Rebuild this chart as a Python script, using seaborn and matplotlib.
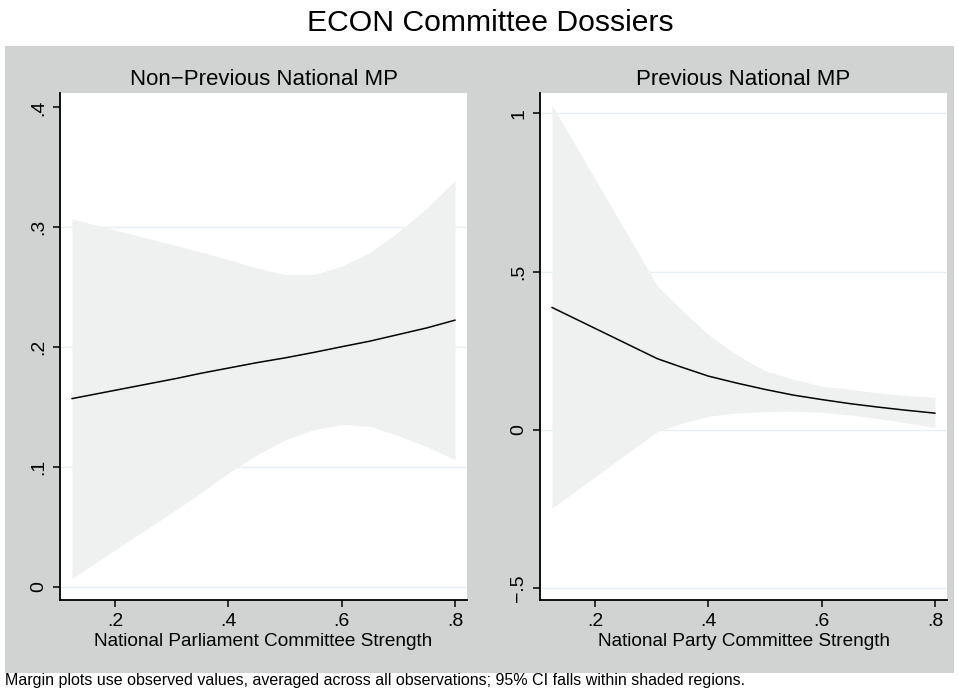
import matplotlib
matplotlib.use("Agg")
import numpy as np
import pandas as pd
import matplotlib.pyplot as plt
from matplotlib.patches import Rectangle
from matplotlib.ticker import FixedLocator, FuncFormatter
import seaborn as sns

# Committee strength values at which the margins are evaluated
strength = [0.124, 0.31, 0.35, 0.40, 0.45, 0.50, 0.55, 0.60, 0.65, 0.70, 0.75, 0.80]

# Non-previous national MPs: predicted margin and 95% CI
nonprev_margin = [0.157, 0.174, 0.178, 0.1825, 0.187, 0.191, 0.1955, 0.2003, 0.205, 0.2105, 0.216, 0.2225]
nonprev_upper = [0.307, 0.2845, 0.2795, 0.273, 0.266, 0.2605, 0.2605, 0.2675, 0.279, 0.296, 0.316, 0.339]
nonprev_lower = [0.007, 0.065, 0.078, 0.095, 0.110, 0.1225, 0.131, 0.1355, 0.134, 0.126, 0.117, 0.106]

# Previous national MPs: predicted margin and 95% CI
prev_margin = [0.387, 0.225, 0.200, 0.170, 0.148, 0.128, 0.110, 0.096, 0.083, 0.072, 0.062, 0.053]
prev_upper = [1.026, 0.455, 0.384, 0.301, 0.237, 0.187, 0.160, 0.138, 0.128, 0.117, 0.109, 0.103]
prev_lower = [-0.247, -0.005, 0.019, 0.043, 0.054, 0.058, 0.059, 0.056, 0.047, 0.036, 0.022, 0.008]

main_title = "ECON Committee Dossiers"
panel_titles = ["Non\u2212Previous National MP", "Previous National MP"]
x_titles = ["National Parliament Committee Strength", "National Party Committee Strength"]
note = ("Margin plots use observed values, averaged across all observations; "
        "95% CI falls within shaded regions.")

x_ticks = [0.2, 0.4, 0.6, 0.8]
y_ticks = [[0, 0.1, 0.2, 0.3, 0.4], [-0.5, 0, 0.5, 1]]
y_grid = [[0, 0.1, 0.2, 0.3], [-0.5, 0, 0.5, 1]]
x_range = (0.103, 0.821)
y_ranges = [(-0.011, 0.412), (-0.537, 1.064)]

df = pd.concat([
    pd.DataFrame({"panel": 0, "x": strength, "margin": nonprev_margin,
                  "lo": nonprev_lower, "hi": nonprev_upper}),
    pd.DataFrame({"panel": 1, "x": strength, "margin": prev_margin,
                  "lo": prev_lower, "hi": prev_upper}),
])

sns.set_style("white")
plt.rcParams["font.family"] = ["Liberation Sans", "DejaVu Sans"]
plt.rcParams["text.color"] = "black"
plt.rcParams["xtick.color"] = "black"
plt.rcParams["ytick.color"] = "black"

BG = "#d1d3d2"
CI = "#eff1f0"
GRID = "#e6eff1"


def stata_fmt(v, _pos=None):
    s = f"{v:g}"
    if s.startswith("0."):
        s = s[1:]
    elif s.startswith("-0."):
        s = "\u2212" + s[2:]
    elif s.startswith("-"):
        s = "\u2212" + s[1:]
    return s


W, H = 959, 689
fig = plt.figure(figsize=(W / 100, H / 100), dpi=100)
fig.patch.set_facecolor("white")
fig.patches.append(Rectangle((5 / W, 1 - 673 / H), 949 / W, 627 / H,
                             transform=fig.transFigure, facecolor=BG,
                             edgecolor="none", zorder=-5))

fig.text(490 / W, 1 - 31 / H, main_title, ha="center", va="baseline",
         fontsize=21.7)

lefts = [60, 540]
for i, left in enumerate(lefts):
    ax = fig.add_axes([left / W, 1 - 600 / H, 407 / W, 507 / H])
    ax.set_zorder(1)
    ax.set_facecolor("white")
    sub = df[df["panel"] == i]
    ax.fill_between(sub["x"], sub["lo"], sub["hi"], color=CI, lw=0, zorder=2)
    sns.lineplot(data=sub, x="x", y="margin", ax=ax, color="black",
                 lw=1.1, zorder=3, legend=False)
    for g in y_grid[i]:
        ax.axhline(g, color=GRID, lw=1.0, zorder=1)
    ax.set_xlim(*x_range)
    ax.set_ylim(*y_ranges[i])
    ax.xaxis.set_major_locator(FixedLocator(x_ticks))
    ax.yaxis.set_major_locator(FixedLocator(y_ticks[i]))
    ax.xaxis.set_major_formatter(FuncFormatter(stata_fmt))
    ax.yaxis.set_major_formatter(FuncFormatter(stata_fmt))
    for s in ["top", "right"]:
        ax.spines[s].set_visible(False)
    for s in ["left", "bottom"]:
        ax.spines[s].set_color("black")
        ax.spines[s].set_linewidth(1.3)
    ax.tick_params(axis="both", direction="out", length=5, width=1.1,
                   color="black", labelcolor="black", labelsize=14, pad=4,
                   bottom=True, left=True)
    ax.tick_params(axis="y", labelrotation=90)
    for lab in ax.get_yticklabels():
        lab.set_va("center")
    ax.set_xlabel("")
    ax.set_ylabel("")
    ax.annotate(panel_titles[i], xy=(0.5, 1), xycoords="axes fraction",
                xytext=(0, 6), textcoords="offset points",
                ha="center", va="baseline", fontsize=16)
    ax.annotate(x_titles[i], xy=(0.5, 0), xycoords="axes fraction",
                xytext=(0, -33), textcoords="offset points",
                ha="center", va="baseline", fontsize=13.7)

fig.text(5 / W, 1 - 685 / H, note, ha="left", va="baseline", fontsize=11.5)

fig.savefig("out.png", dpi=100)
